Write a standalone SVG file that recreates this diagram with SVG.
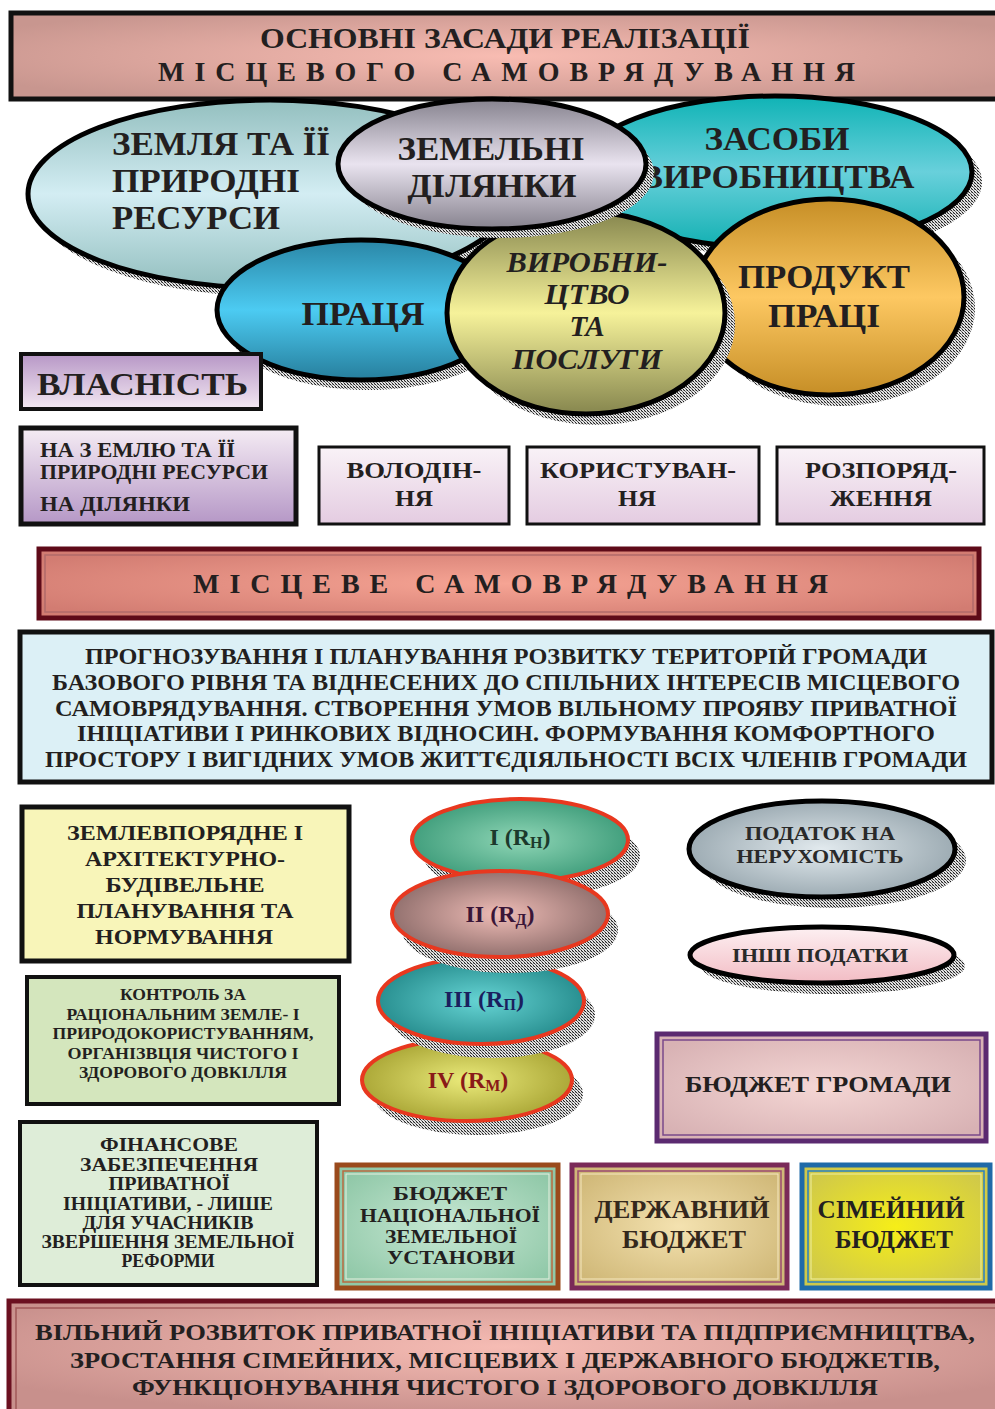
<svg xmlns="http://www.w3.org/2000/svg" width="995" height="1409" viewBox="0 0 995 1409">
<defs>
  <style>
    text { font-family: "Liberation Serif", "DejaVu Serif", serif; font-weight: bold; fill: #231f20; }
    .c { text-anchor: middle; }
    .shadow { fill: url(#dither); }
  </style>
  <pattern id="dither" width="3" height="3" patternUnits="userSpaceOnUse">
    <rect width="3" height="3" fill="#e4e4e4"/>
    <rect x="0" y="0" width="1" height="1" fill="#222"/>
    <rect x="1" y="1" width="1" height="1" fill="#666"/>
    <rect x="2" y="2" width="1" height="1" fill="#222"/>
    <rect x="2" y="0" width="1" height="1" fill="#999"/>
  </pattern>
  <radialGradient id="gTitle" cx="0.5" cy="0.5" r="0.6">
    <stop offset="0" stop-color="#f8bcb2"/>
    <stop offset="1" stop-color="#c8968f"/>
  </radialGradient>
  <linearGradient id="gZemlya" x1="0" y1="0" x2="0" y2="1">
    <stop offset="0" stop-color="#93bfbf"/>
    <stop offset="0.5" stop-color="#d3edf3"/>
    <stop offset="1" stop-color="#93bfbf"/>
  </linearGradient>
  <linearGradient id="gDil" x1="0" y1="0" x2="0" y2="1">
    <stop offset="0" stop-color="#86828e"/>
    <stop offset="0.5" stop-color="#e9e3ef"/>
    <stop offset="1" stop-color="#86828e"/>
  </linearGradient>
  <linearGradient id="gZasoby" x1="0" y1="0" x2="0" y2="1">
    <stop offset="0" stop-color="#0fb3b5"/>
    <stop offset="0.5" stop-color="#68d0db"/>
    <stop offset="1" stop-color="#12b0b2"/>
  </linearGradient>
  <linearGradient id="gPratsya" x1="0" y1="0" x2="0" y2="1">
    <stop offset="0" stop-color="#2a86a6"/>
    <stop offset="0.5" stop-color="#4ccbf2"/>
    <stop offset="1" stop-color="#267e9c"/>
  </linearGradient>
  <linearGradient id="gVyrob" x1="0" y1="0" x2="0" y2="1">
    <stop offset="0" stop-color="#86864e"/>
    <stop offset="0.5" stop-color="#f6f29a"/>
    <stop offset="1" stop-color="#86864e"/>
  </linearGradient>
  <linearGradient id="gProdukt" x1="0" y1="0" x2="0" y2="1">
    <stop offset="0" stop-color="#c68e26"/>
    <stop offset="0.5" stop-color="#fdc862"/>
    <stop offset="1" stop-color="#c68e26"/>
  </linearGradient>
  <linearGradient id="gVlasn" x1="0" y1="0" x2="0" y2="1">
    <stop offset="0" stop-color="#b797c6"/>
    <stop offset="1" stop-color="#f3e8f2"/>
  </linearGradient>
  <linearGradient id="gNaZem" x1="0" y1="0" x2="0" y2="1">
    <stop offset="0" stop-color="#f5ecf4"/>
    <stop offset="1" stop-color="#b597c6"/>
  </linearGradient>
  <linearGradient id="gRight" x1="0" y1="0" x2="0" y2="1">
    <stop offset="0" stop-color="#f9f2f7"/>
    <stop offset="1" stop-color="#e4cce1"/>
  </linearGradient>
  <radialGradient id="gMisc" cx="0.5" cy="0.5" r="0.6">
    <stop offset="0" stop-color="#f6a494"/>
    <stop offset="1" stop-color="#d27c72"/>
  </radialGradient>
  <radialGradient id="gR1" cx="0.5" cy="0.5" r="0.55">
    <stop offset="0" stop-color="#8fd6b6"/>
    <stop offset="1" stop-color="#3b9a78"/>
  </radialGradient>
  <radialGradient id="gR2" cx="0.5" cy="0.5" r="0.55">
    <stop offset="0" stop-color="#efbcb6"/>
    <stop offset="1" stop-color="#8a6a68"/>
  </radialGradient>
  <radialGradient id="gR3" cx="0.5" cy="0.5" r="0.55">
    <stop offset="0" stop-color="#66d4d4"/>
    <stop offset="1" stop-color="#23898a"/>
  </radialGradient>
  <radialGradient id="gR4" cx="0.5" cy="0.5" r="0.55">
    <stop offset="0" stop-color="#eaea7a"/>
    <stop offset="1" stop-color="#a6a232"/>
  </radialGradient>
  <radialGradient id="gPodatok" cx="0.5" cy="0.5" r="0.55">
    <stop offset="0" stop-color="#e2eaee"/>
    <stop offset="1" stop-color="#97a6ae"/>
  </radialGradient>
  <linearGradient id="gInshi" x1="0" y1="0" x2="0" y2="1">
    <stop offset="0" stop-color="#fdf0f2"/>
    <stop offset="1" stop-color="#f2bcc4"/>
  </linearGradient>
  <radialGradient id="gBudzhHr" cx="0.5" cy="0.5" r="0.6">
    <stop offset="0" stop-color="#f4d6d4"/>
    <stop offset="1" stop-color="#d8b2b4"/>
  </radialGradient>
  <radialGradient id="gNats" cx="0.5" cy="0.5" r="0.6">
    <stop offset="0" stop-color="#c8e8d4"/>
    <stop offset="1" stop-color="#90c8a8"/>
  </radialGradient>
  <radialGradient id="gDerzh" cx="0.5" cy="0.5" r="0.6">
    <stop offset="0" stop-color="#f4e2b0"/>
    <stop offset="1" stop-color="#d0b878"/>
  </radialGradient>
  <radialGradient id="gSim" cx="0.5" cy="0.5" r="0.6">
    <stop offset="0" stop-color="#f6ee18"/>
    <stop offset="1" stop-color="#cfc84a"/>
  </radialGradient>
  <radialGradient id="gBottom" cx="0.5" cy="0.4" r="0.6">
    <stop offset="0" stop-color="#f6bcb4"/>
    <stop offset="1" stop-color="#c8908c"/>
  </radialGradient>
</defs>

<rect width="995" height="1409" fill="#ffffff"/>

<!-- header -->
<g id="title">
  <rect x="11" y="13" width="990" height="86" fill="url(#gTitle)" stroke="#111" stroke-width="5"/>
  <text class="c" x="505" y="48" font-size="29" textLength="490" lengthAdjust="spacingAndGlyphs">ОСНОВНІ ЗАСАДИ РЕАЛІЗАЦІЇ</text>
  <text x="158" y="81" font-size="28" textLength="697" lengthAdjust="spacing">МІСЦЕВОГО САМОВРЯДУВАННЯ</text>
</g>

<!-- factor ellipses -->
<g id="zemlya">
  <ellipse class="shadow" cx="278" cy="203" rx="242" ry="94"/>
  <ellipse cx="270" cy="194" rx="242" ry="94" fill="url(#gZemlya)" stroke="#000" stroke-width="5"/>
  <text x="112" y="155" font-size="34" textLength="218" lengthAdjust="spacingAndGlyphs">ЗЕМЛЯ ТА ЇЇ</text>
  <text x="112" y="192" font-size="34" textLength="188" lengthAdjust="spacingAndGlyphs">ПРИРОДНІ</text>
  <text x="112" y="229" font-size="34" textLength="168" lengthAdjust="spacingAndGlyphs">РЕСУРСИ</text>
</g>

<g id="zasoby">
  <ellipse class="shadow" cx="785" cy="182" rx="197" ry="76"/>
  <ellipse cx="775" cy="172" rx="197" ry="76" fill="url(#gZasoby)" stroke="#000" stroke-width="5"/>
  <text class="c" x="777" y="150" font-size="34" textLength="145" lengthAdjust="spacingAndGlyphs">ЗАСОБИ</text>
  <text class="c" x="777" y="188" font-size="34" textLength="275" lengthAdjust="spacingAndGlyphs">ВИРОБНИЦТВА</text>
</g>

<g id="pratsya">
  <ellipse class="shadow" cx="368" cy="320" rx="145" ry="70"/>
  <ellipse cx="361" cy="310" rx="144" ry="70" fill="url(#gPratsya)" stroke="#000" stroke-width="5"/>
  <text class="c" x="363" y="325" font-size="34" textLength="123" lengthAdjust="spacingAndGlyphs">ПРАЦЯ</text>
</g>

<g id="produkt">
  <ellipse class="shadow" cx="840" cy="308" rx="135" ry="98"/>
  <ellipse cx="829" cy="297" rx="135" ry="98" fill="url(#gProdukt)" stroke="#000" stroke-width="5"/>
  <text class="c" x="824" y="288" font-size="34" textLength="172" lengthAdjust="spacingAndGlyphs">ПРОДУКТ</text>
  <text class="c" x="824" y="327" font-size="34" textLength="112" lengthAdjust="spacingAndGlyphs">ПРАЦІ</text>
</g>

<g id="vyrobnytstvo">
  <ellipse class="shadow" cx="596" cy="324" rx="139" ry="101"/>
  <ellipse cx="586" cy="313" rx="139" ry="101" fill="url(#gVyrob)" stroke="#000" stroke-width="5"/>
  <text class="c" x="587" y="272" font-size="29" font-style="italic" textLength="161" lengthAdjust="spacingAndGlyphs">ВИРОБНИ-</text>
  <text class="c" x="587" y="304" font-size="29" font-style="italic" textLength="85" lengthAdjust="spacingAndGlyphs">ЦТВО</text>
  <text class="c" x="587" y="336" font-size="29" font-style="italic">ТА</text>
  <text class="c" x="587" y="369" font-size="29" font-style="italic" textLength="150" lengthAdjust="spacingAndGlyphs">ПОСЛУГИ</text>
</g>

<g id="dilyanky">
  <ellipse class="shadow" cx="500" cy="173" rx="154" ry="65"/>
  <ellipse cx="492" cy="164" rx="154" ry="65" fill="url(#gDil)" stroke="#000" stroke-width="5"/>
  <text class="c" x="491" y="160" font-size="34" textLength="187" lengthAdjust="spacingAndGlyphs">ЗЕМЕЛЬНІ</text>
  <text class="c" x="492" y="197" font-size="34" textLength="169" lengthAdjust="spacingAndGlyphs">ДІЛЯНКИ</text>
</g>

<!-- ownership row -->
<g id="vlasnist">
  <rect x="21" y="354" width="240" height="55" fill="url(#gVlasn)" stroke="#111" stroke-width="4"/>
  <text x="37" y="395" font-size="32" textLength="211" lengthAdjust="spacingAndGlyphs">ВЛАСНІСТЬ</text>
</g>

<g id="na-zemlyu">
  <rect x="21" y="428" width="275" height="96" fill="url(#gNaZem)" stroke="#111" stroke-width="5"/>
  <text x="40" y="457" font-size="21" textLength="195" lengthAdjust="spacingAndGlyphs">НА З ЕМЛЮ ТА  ЇЇ</text>
  <text x="40" y="479" font-size="21" textLength="228" lengthAdjust="spacingAndGlyphs">ПРИРОДНІ РЕСУРСИ</text>
  <text x="40" y="511" font-size="21" textLength="150" lengthAdjust="spacingAndGlyphs">НА  ДІЛЯНКИ</text>
</g>

<g id="volodinnya">
  <rect x="319" y="447" width="190" height="77" fill="url(#gRight)" stroke="#111" stroke-width="3"/>
  <text class="c" x="414" y="478" font-size="24" textLength="135" lengthAdjust="spacingAndGlyphs">ВОЛОДІН-</text>
  <text class="c" x="414" y="506" font-size="24" textLength="38" lengthAdjust="spacingAndGlyphs">НЯ</text>
</g>

<g id="korystuvannya">
  <rect x="527" y="447" width="232" height="77" fill="url(#gRight)" stroke="#111" stroke-width="3"/>
  <text class="c" x="638" y="478" font-size="24" textLength="196" lengthAdjust="spacingAndGlyphs">КОРИСТУВАН-</text>
  <text class="c" x="637" y="506" font-size="24" textLength="38" lengthAdjust="spacingAndGlyphs">НЯ</text>
</g>

<g id="rozporyadzhennya">
  <rect x="777" y="447" width="207" height="77" fill="url(#gRight)" stroke="#111" stroke-width="3"/>
  <text class="c" x="881" y="478" font-size="24" textLength="152" lengthAdjust="spacingAndGlyphs">РОЗПОРЯД-</text>
  <text class="c" x="881" y="506" font-size="24" textLength="102" lengthAdjust="spacingAndGlyphs">ЖЕННЯ</text>
</g>

<!-- local self-government banner -->
<g id="mistseve">
  <rect x="39" y="549" width="940" height="69" fill="url(#gMisc)" stroke="#5e0a18" stroke-width="5"/>
  <rect x="45" y="555" width="928" height="57" fill="none" stroke="#b06a6a" stroke-width="1.5"/>
  <text x="193" y="593" font-size="28" textLength="635" lengthAdjust="spacing">МІСЦЕВЕ САМОВРЯДУВАННЯ</text>
</g>

<g id="tasks">
  <rect x="20" y="632" width="972" height="150" fill="#dcf0f6" stroke="#111" stroke-width="5"/>
  <text class="c" x="506" y="664" font-size="23" textLength="842" lengthAdjust="spacingAndGlyphs">ПРОГНОЗУВАННЯ І ПЛАНУВАННЯ РОЗВИТКУ ТЕРИТОРІЙ ГРОМАДИ</text>
  <text class="c" x="506" y="690" font-size="23" textLength="908" lengthAdjust="spacingAndGlyphs">БАЗОВОГО РІВНЯ ТА ВІДНЕСЕНИХ ДО СПІЛЬНИХ ІНТЕРЕСІВ МІСЦЕВОГО</text>
  <text class="c" x="506" y="716" font-size="23" textLength="902" lengthAdjust="spacingAndGlyphs">САМОВРЯДУВАННЯ. СТВОРЕННЯ УМОВ ВІЛЬНОМУ ПРОЯВУ ПРИВАТНОЇ</text>
  <text class="c" x="506" y="741" font-size="23" textLength="858" lengthAdjust="spacingAndGlyphs">ІНІЦІАТИВИ І РИНКОВИХ ВІДНОСИН. ФОРМУВАННЯ КОМФОРТНОГО</text>
  <text class="c" x="506" y="767" font-size="23" textLength="922" lengthAdjust="spacingAndGlyphs">ПРОСТОРУ І ВИГІДНИХ УМОВ ЖИТТЄДІЯЛЬНОСТІ ВСІХ ЧЛЕНІВ ГРОМАДИ</text>
</g>

<!-- left column -->
<g id="zemlevporyadne">
  <rect x="22" y="807" width="327" height="154" fill="#f8f5b9" stroke="#111" stroke-width="5"/>
  <text class="c" x="185" y="840" font-size="22" textLength="236" lengthAdjust="spacingAndGlyphs">ЗЕМЛЕВПОРЯДНЕ І</text>
  <text class="c" x="185" y="866" font-size="22" textLength="200" lengthAdjust="spacingAndGlyphs">АРХІТЕКТУРНО-</text>
  <text class="c" x="185" y="892" font-size="22" textLength="159" lengthAdjust="spacingAndGlyphs">БУДІВЕЛЬНЕ</text>
  <text class="c" x="185" y="918" font-size="22" textLength="217" lengthAdjust="spacingAndGlyphs">ПЛАНУВАННЯ ТА</text>
  <text class="c" x="184" y="944" font-size="22" textLength="178" lengthAdjust="spacingAndGlyphs">НОРМУВАННЯ</text>
</g>

<g id="kontrol">
  <rect x="27" y="977" width="312" height="127" fill="#d4e6bd" stroke="#111" stroke-width="4"/>
  <text class="c" x="183" y="1000" font-size="16" textLength="126" lengthAdjust="spacingAndGlyphs">КОНТРОЛЬ ЗА</text>
  <text class="c" x="183" y="1020" font-size="16" textLength="233" lengthAdjust="spacingAndGlyphs">РАЦІОНАЛЬНИМ ЗЕМЛЕ- І</text>
  <text class="c" x="183" y="1039" font-size="16" textLength="261" lengthAdjust="spacingAndGlyphs">ПРИРОДОКОРИСТУВАННЯМ,</text>
  <text class="c" x="183" y="1059" font-size="16" textLength="231" lengthAdjust="spacingAndGlyphs">ОРГАНІЗВЦІЯ ЧИСТОГО  І</text>
  <text class="c" x="183" y="1078" font-size="16" textLength="208" lengthAdjust="spacingAndGlyphs">ЗДОРОВОГО ДОВКІЛЛЯ</text>
</g>

<g id="finansove">
  <rect x="20" y="1122" width="297" height="163" fill="#deedd8" stroke="#111" stroke-width="4"/>
  <text class="c" x="169" y="1151" font-size="19" textLength="138" lengthAdjust="spacingAndGlyphs">ФІНАНСОВЕ</text>
  <text class="c" x="169" y="1171" font-size="19" textLength="178" lengthAdjust="spacingAndGlyphs">ЗАБЕЗПЕЧЕННЯ</text>
  <text class="c" x="169" y="1190" font-size="19" textLength="121" lengthAdjust="spacingAndGlyphs">ПРИВАТНОЇ</text>
  <text class="c" x="168" y="1210" font-size="19" textLength="210" lengthAdjust="spacingAndGlyphs">ІНІЦІАТИВИ, - ЛИШЕ</text>
  <text class="c" x="168" y="1229" font-size="19" textLength="171" lengthAdjust="spacingAndGlyphs">ДЛЯ УЧАСНИКІВ</text>
  <text class="c" x="168" y="1248" font-size="19" textLength="253" lengthAdjust="spacingAndGlyphs">ЗВЕРШЕННЯ ЗЕМЕЛЬНОЇ</text>
  <text class="c" x="168" y="1267" font-size="19" textLength="93" lengthAdjust="spacingAndGlyphs">РЕФОРМИ</text>
</g>

<!-- rent ellipses -->
<g id="rent-1">
  <ellipse class="shadow" cx="532" cy="856" rx="108" ry="41"/>
  <ellipse cx="520" cy="840" rx="108" ry="41" fill="url(#gR1)" stroke="#e8381f" stroke-width="4"/>
  <text class="c" x="520" y="845" font-size="24" style="fill:#1c3a2c">I (R<tspan font-size="16" dy="3">Н</tspan><tspan dy="-3">)</tspan></text>
</g>

<g id="rent-4">
  <ellipse class="shadow" cx="478" cy="1094" rx="105" ry="41"/>
  <ellipse cx="467" cy="1080" rx="105" ry="41" fill="url(#gR4)" stroke="#e8381f" stroke-width="4"/>
  <text class="c" x="468" y="1088" font-size="24" style="fill:#8a1a18">IV (R<tspan font-size="16" dy="3">М</tspan><tspan dy="-3">)</tspan></text>
</g>

<g id="rent-3">
  <ellipse class="shadow" cx="492" cy="1015" rx="103" ry="43"/>
  <ellipse cx="481" cy="1001" rx="103" ry="43" fill="url(#gR3)" stroke="#e8381f" stroke-width="4"/>
  <text class="c" x="484" y="1007" font-size="24" style="fill:#1a1f5e">III (R<tspan font-size="16" dy="3">П</tspan><tspan dy="-3">)</tspan></text>
</g>

<g id="rent-2">
  <ellipse class="shadow" cx="510" cy="930" rx="108" ry="43"/>
  <ellipse cx="500" cy="914" rx="108" ry="43" fill="url(#gR2)" stroke="#e8381f" stroke-width="4"/>
  <text class="c" x="500" y="922" font-size="24" style="fill:#3a1638">II (R<tspan font-size="16" dy="3">Д</tspan><tspan dy="-3">)</tspan></text>
</g>

<!-- taxes -->
<g id="podatok">
  <ellipse class="shadow" cx="833" cy="860" rx="133" ry="48"/>
  <ellipse cx="822" cy="849" rx="133" ry="48" fill="url(#gPodatok)" stroke="#000" stroke-width="5"/>
  <text class="c" x="820" y="840" font-size="19" style="fill:#2a2a2a" textLength="150" lengthAdjust="spacingAndGlyphs">ПОДАТОК НА</text>
  <text class="c" x="820" y="863" font-size="19" style="fill:#2a2a2a" textLength="167" lengthAdjust="spacingAndGlyphs">НЕРУХОМІСТЬ</text>
</g>

<g id="inshi">
  <ellipse class="shadow" cx="833" cy="966" rx="132" ry="28"/>
  <ellipse cx="822" cy="955" rx="132" ry="28" fill="url(#gInshi)" stroke="#000" stroke-width="5"/>
  <text class="c" x="820" y="962" font-size="19" style="fill:#2a2a2a" textLength="176" lengthAdjust="spacingAndGlyphs">ІНШІ ПОДАТКИ</text>
</g>

<!-- budgets -->
<g id="budzhet-hromady">
  <rect x="657" y="1034" width="329" height="107" fill="url(#gBudzhHr)" stroke="#5b2a70" stroke-width="5"/>
  <rect x="663" y="1040" width="317" height="95" fill="none" stroke="#7a4a8a" stroke-width="1.5"/>
  <text class="c" x="818" y="1092" font-size="24" textLength="266" lengthAdjust="spacingAndGlyphs">БЮДЖЕТ ГРОМАДИ</text>
</g>

<g id="budzhet-natsionalnoi">
  <rect x="337" y="1165" width="221" height="123" fill="url(#gNats)" stroke="#9a4a1c" stroke-width="5"/>
  <rect x="343" y="1171" width="209" height="111" fill="none" stroke="#b86a40" stroke-width="1.5"/>
  <rect x="346" y="1174" width="203" height="105" fill="none" stroke="#e8f0e0" stroke-width="1"/>
  <text class="c" x="450" y="1200" font-size="18" textLength="114" lengthAdjust="spacingAndGlyphs">БЮДЖЕТ</text>
  <text class="c" x="450" y="1222" font-size="18" textLength="180" lengthAdjust="spacingAndGlyphs">НАЦІОНАЛЬНОЇ</text>
  <text class="c" x="451" y="1243" font-size="18" textLength="132" lengthAdjust="spacingAndGlyphs">ЗЕМЕЛЬНОЇ</text>
  <text class="c" x="451" y="1264" font-size="18" textLength="128" lengthAdjust="spacingAndGlyphs">УСТАНОВИ</text>
</g>

<g id="derzhavnyi">
  <rect x="572" y="1165" width="215" height="123" fill="url(#gDerzh)" stroke="#7a2a58" stroke-width="5"/>
  <rect x="578" y="1171" width="203" height="111" fill="none" stroke="#9a4a70" stroke-width="1.5"/>
  <rect x="581" y="1174" width="197" height="105" fill="none" stroke="#f6e8c0" stroke-width="1"/>
  <text class="c" x="682" y="1218" font-size="26" style="fill:#34281c" textLength="175" lengthAdjust="spacingAndGlyphs">ДЕРЖАВНИЙ</text>
  <text class="c" x="684" y="1248" font-size="26" style="fill:#34281c" textLength="124" lengthAdjust="spacingAndGlyphs">БЮДЖЕТ</text>
</g>

<g id="simeinyi">
  <rect x="802" y="1165" width="188" height="123" fill="url(#gSim)" stroke="#1f6aa8" stroke-width="5"/>
  <rect x="808" y="1171" width="176" height="111" fill="none" stroke="#2a80c0" stroke-width="1.5"/>
  <rect x="811" y="1174" width="170" height="105" fill="none" stroke="#f0f0a0" stroke-width="1"/>
  <text class="c" x="891" y="1218" font-size="26" textLength="147" lengthAdjust="spacingAndGlyphs">СІМЕЙНИЙ</text>
  <text class="c" x="894" y="1248" font-size="26" textLength="118" lengthAdjust="spacingAndGlyphs">БЮДЖЕТ</text>
</g>

<!-- outcome -->
<g id="rezultat">
  <rect x="9" y="1301" width="995" height="115" fill="url(#gBottom)" stroke="#6b1020" stroke-width="5"/>
  <rect x="16" y="1308" width="985" height="110" fill="none" stroke="#a05858" stroke-width="1.5"/>
  <text class="c" x="505" y="1340" font-size="24" textLength="940" lengthAdjust="spacingAndGlyphs">ВІЛЬНИЙ РОЗВИТОК ПРИВАТНОЇ ІНІЦІАТИВИ ТА ПІДПРИЄМНИЦТВА,</text>
  <text class="c" x="505" y="1368" font-size="24" textLength="870" lengthAdjust="spacingAndGlyphs">ЗРОСТАННЯ СІМЕЙНИХ, МІСЦЕВИХ І ДЕРЖАВНОГО БЮДЖЕТІВ,</text>
  <text class="c" x="505" y="1395" font-size="24" textLength="746" lengthAdjust="spacingAndGlyphs">ФУНКЦІОНУВАННЯ ЧИСТОГО І ЗДОРОВОГО ДОВКІЛЛЯ</text>
</g>
</svg>
